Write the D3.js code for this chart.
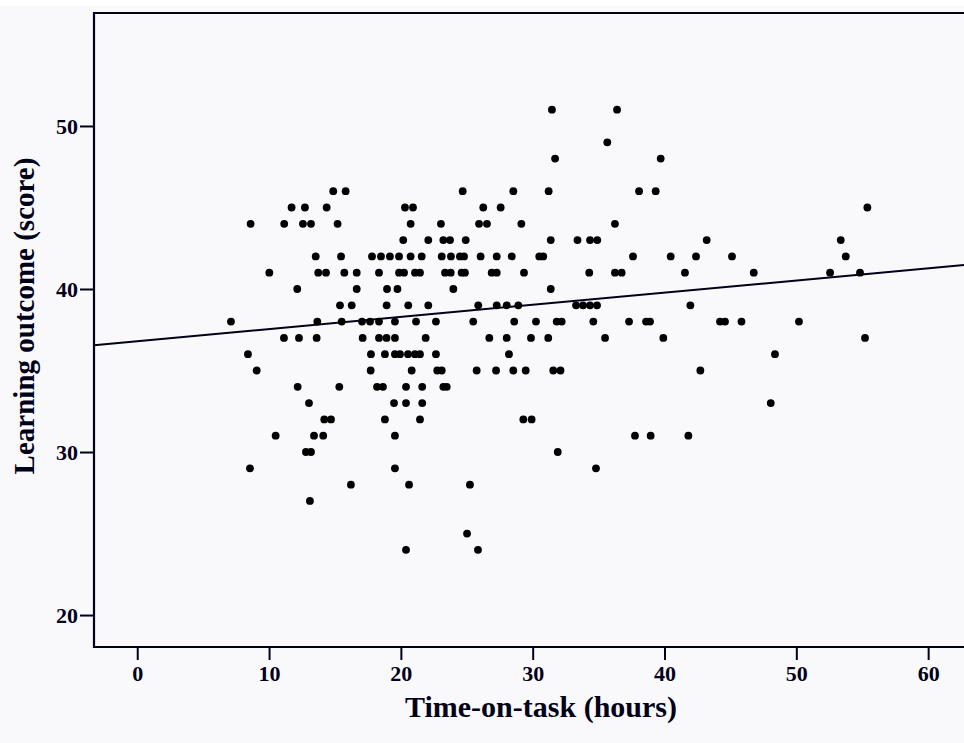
<!DOCTYPE html>
<html>
<head>
<meta charset="utf-8">
<script src="https://cdn.jsdelivr.net/npm/d3@7"></script>
<style>
  html, body { margin: 0; padding: 0; background: #ffffff; }
  svg { display: block; }
</style>
</head>
<body>
<svg id="chart" width="964" height="743"></svg>
<script>
// ---- data ----
const scoreLevels = [51, 49, 48, 46, 45, 44, 43, 42, 41, 40, 39, 38, 37, 36, 35, 34, 33, 32, 31, 30, 29, 28, 27, 25, 24];
const hoursAtScore = [
  [31.46, 36.40],
  [35.66],
  [31.70, 39.71],
  [14.87, 15.81, 24.69, 28.53, 31.21, 38.07, 39.33],
  [11.71, 12.72, 14.37, 20.31, 20.92, 26.25, 27.57, 55.39],
  [8.60, 11.15, 12.57, 13.18, 15.20, 20.74, 23.04, 25.93, 26.53, 29.14, 36.24],
  [20.18, 22.08, 23.22, 23.73, 24.92, 31.37, 33.40, 34.35, 34.90, 43.20, 53.37],
  [13.54, 15.46, 17.81, 18.49, 19.17, 19.86, 20.74, 21.58, 23.10, 23.80, 24.48, 24.79, 26.05, 27.27, 28.41, 30.50, 30.80, 37.61, 40.47, 42.39, 45.12, 53.75],
  [10.02, 13.73, 14.32, 15.71, 16.65, 18.34, 19.86, 20.24, 21.07, 21.45, 23.35, 23.78, 24.61, 24.86, 26.89, 27.27, 29.34, 34.29, 36.24, 36.75, 41.55, 46.77, 52.56, 54.83],
  [12.14, 16.65, 18.95, 19.74, 23.98, 31.37],
  [15.38, 16.27, 18.92, 20.56, 22.08, 25.87, 27.27, 28.03, 28.91, 33.29, 33.82, 34.35, 34.88, 41.96],
  [7.11, 13.66, 15.51, 17.05, 17.66, 18.34, 19.55, 21.15, 22.66, 25.49, 28.60, 30.25, 31.82, 32.20, 34.60, 37.31, 38.60, 38.90, 44.21, 44.59, 45.84, 50.20],
  [11.13, 12.27, 13.61, 17.10, 18.34, 18.91, 19.55, 21.88, 26.71, 28.03, 29.87, 31.18, 35.49, 39.91, 55.21],
  [8.40, 17.73, 18.79, 19.55, 19.93, 20.54, 21.07, 21.45, 22.66, 28.20, 48.38],
  [9.06, 17.71, 20.82, 22.76, 23.10, 25.75, 27.22, 28.53, 29.47, 31.56, 32.11, 42.72],
  [12.17, 15.33, 18.19, 18.64, 20.39, 21.62, 23.22, 23.48],
  [13.03, 19.48, 20.39, 21.62, 48.06],
  [14.19, 14.70, 18.79, 21.45, 29.29, 29.92],
  [10.50, 13.41, 14.11, 19.55, 37.76, 38.95, 41.81],
  [12.80, 13.18, 31.90],
  [8.55, 19.55, 34.80],
  [16.21, 20.62, 25.24],
  [13.10],
  [25.02],
  [20.39, 25.85]
];
const xTicks = [0, 10, 20, 30, 40, 50, 60];
const yTicks = [20, 30, 40, 50];
const fitIntercept = 36.80;
const fitSlope = 0.0744;
const xTitle = "Time-on-task (hours)";
const yTitle = "Learning outcome (score)";

// ---- layout ----
const W = 964, H = 743;
const plot = { left: 94, top: 13, right: 964, bottom: 647 };
const xDomain = [-3.28, 62.72];
const yDomain = [18.04, 56.93];
const ink = "#000018";
const font = "'Liberation Serif', 'Times New Roman', serif";

const points = [];
scoreLevels.forEach((s, i) => hoursAtScore[i].forEach(h => points.push({ h, s })));

const svg = d3.select("#chart");
svg.append("rect").attr("x", 0).attr("y", 0).attr("width", W).attr("height", H).attr("fill", "#ffffff");
svg.append("rect").attr("x", 0).attr("y", 6).attr("width", W).attr("height", H - 6).attr("fill", "#f9f9fc");

const x = d3.scaleLinear().domain(xDomain).range([plot.left, plot.right]);
const y = d3.scaleLinear().domain(yDomain).range([plot.bottom, plot.top]);

// axes
const xAxis = d3.axisBottom(x).tickValues(xTicks).tickSize(13).tickPadding(5).tickSizeOuter(0);
const yAxis = d3.axisLeft(y).tickValues(yTicks).tickSize(14).tickPadding(2).tickSizeOuter(0);

const gx = svg.append("g").attr("transform", `translate(0,${plot.bottom})`).call(xAxis);
const gy = svg.append("g").attr("transform", `translate(${plot.left},0)`).call(yAxis);
[gx, gy].forEach(g => {
  g.select(".domain").remove();
  g.selectAll(".tick line").attr("stroke", ink).attr("stroke-width", 2);
  g.selectAll(".tick text")
    .attr("fill", ink)
    .style("font-family", font)
    .style("font-weight", "bold")
    .style("font-size", "22px");
});

// frame (left, top, bottom)
const frame = d3.path();
frame.moveTo(plot.right + 2, plot.top);
frame.lineTo(plot.left, plot.top);
frame.lineTo(plot.left, plot.bottom);
frame.lineTo(plot.right + 2, plot.bottom);
svg.append("path").attr("d", frame.toString()).attr("fill", "none")
  .attr("stroke", ink).attr("stroke-width", 2.2);

// regression line
svg.append("line")
  .attr("x1", x(xDomain[0])).attr("y1", y(fitIntercept + fitSlope * xDomain[0]))
  .attr("x2", x(xDomain[1])).attr("y2", y(fitIntercept + fitSlope * xDomain[1]))
  .attr("stroke", ink).attr("stroke-width", 2);

// points
svg.append("g").selectAll("circle").data(points).join("circle")
  .attr("cx", d => x(d.h)).attr("cy", d => y(d.s))
  .attr("r", 3.9).attr("fill", "#000000");

// titles
svg.append("text")
  .attr("x", 541).attr("y", 717)
  .attr("text-anchor", "middle")
  .attr("fill", ink)
  .style("font-family", font).style("font-weight", "bold").style("font-size", "30px")
  .text(xTitle);

svg.append("text")
  .attr("transform", `translate(34,${(plot.top + plot.bottom) / 2 - 14}) rotate(-90)`)
  .attr("text-anchor", "middle")
  .attr("fill", ink)
  .style("font-family", font).style("font-weight", "bold").style("font-size", "29px")
  .text(yTitle);
</script>
</body>
</html>
